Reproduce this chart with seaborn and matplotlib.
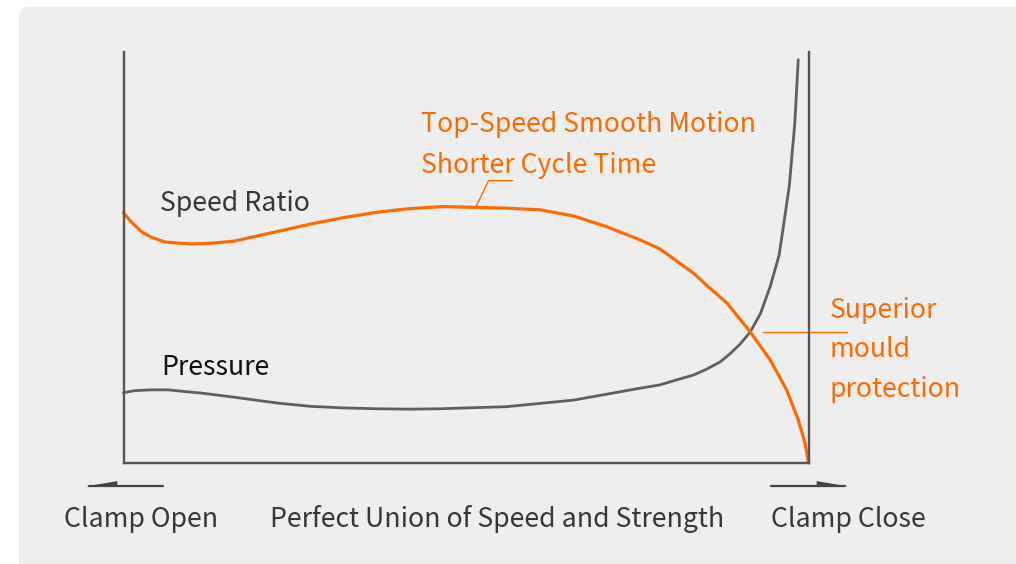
import numpy as np
import pandas as pd
import matplotlib
matplotlib.use("Agg")
import matplotlib.pyplot as plt
from matplotlib.patches import FancyBboxPatch, Polygon
from matplotlib.transforms import IdentityTransform
import seaborn as sns

# stroke position (0 = clamp open, 100 = clamp close) and relative levels
speed_x = [0, 1.1, 2.6, 4.1, 6.0, 7.9, 9.9, 11.8, 13.8, 16.2, 22.4, 27.2, 32.1, 37.0,
           41.8, 46.7, 51.1, 55.9, 60.8, 65.7, 70.5, 75.4, 78.3, 80.3, 83.2, 85.1,
           88.1, 90.0, 91.5, 94.4, 96.8, 98.5, 99.5, 100]
speed_y = [60.9, 58.7, 56.3, 54.9, 53.8, 53.5, 53.3, 53.4, 53.6, 54.0, 56.3, 58.1, 59.7, 61.0,
           61.9, 62.4, 62.2, 62.0, 61.6, 60.1, 57.5, 54.3, 52.1, 49.7, 46.2, 43.3,
           38.9, 35.0, 31.9, 25.1, 17.8, 10.5, 4.8, 0]

pressure_x = [0, 1.6, 4.1, 6.5, 8.9, 11.4, 13.8, 16.2, 22.4, 27.2, 32.1, 37.0, 41.8, 46.2,
              55.9, 65.7, 75.4, 78.3, 80.3, 83.2, 85.1, 87.1, 88.5, 90.0, 91.5, 93.0,
              94.4, 95.7, 96.4, 97.2, 98.0, 98.5]
pressure_y = [17.1, 17.6, 17.8, 17.8, 17.4, 17.0, 16.5, 16.0, 14.6, 13.8, 13.4, 13.2, 13.1, 13.2,
              13.7, 15.3, 18.2, 19.0, 20.0, 21.4, 22.8, 24.6, 26.5, 28.9, 31.9, 36.4,
              42.9, 50.5, 58.3, 67.5, 82.7, 98.1]

ORANGE = "#ff6a00"
GREY = "#5f5f63"
AXIS = "#555555"
TEXT = "#3a3636"

sns.set_style("white")
plt.rcParams['font.family'] = ['Noto Sans CJK SC', 'DejaVu Sans']

fig = plt.figure(figsize=(10.16, 5.64), dpi=100, facecolor="white")

# light grey card behind the chart
card = FancyBboxPatch((19, -30), 1100, 587, boxstyle="round,pad=0,rounding_size=10",
                      transform=IdentityTransform(), facecolor="#eeeeee", edgecolor="none",
                      zorder=-10)
fig.patches.append(card)

ax = fig.add_axes([123.5 / 1016, 101 / 564, 685 / 1016, 411 / 564])
ax.set_facecolor("none")
ax.set_xlim(0, 100)
ax.set_ylim(0, 100)

speed = pd.DataFrame({"x": speed_x, "y": speed_y})
pressure = pd.DataFrame({"x": pressure_x, "y": pressure_y})

sns.lineplot(data=pressure, x="x", y="y", ax=ax, color=GREY, linewidth=2.0,
             estimator=None, sort=False, clip_on=False)
sns.lineplot(data=speed, x="x", y="y", ax=ax, color=ORANGE, linewidth=2.3,
             estimator=None, sort=False, clip_on=False)
for ln in ax.lines:
    ln.set_solid_joinstyle("round")

ax.spines["top"].set_visible(False)
for side in ["left", "right", "bottom"]:
    ax.spines[side].set_color(AXIS)
    ax.spines[side].set_linewidth(1.7)
ax.set_xticks([])
ax.set_yticks([])
ax.set_xlabel("")
ax.set_ylabel("")

fs = 19.2
ax.text(5.4, 61.4, "Speed Ratio", fontsize=fs, color=TEXT, ha="left", va="baseline")
ax.text(5.5, 21.4, "Pressure", fontsize=fs, color="#111111", ha="left", va="baseline")
ax.text(43.4, 80.6, "Top-Speed Smooth Motion", fontsize=fs, color=ORANGE, ha="left", va="baseline")
ax.text(43.4, 70.5, "Shorter Cycle Time", fontsize=fs, color=ORANGE, ha="left", va="baseline")
for txt, yy in [("Superior", 35.4), ("mould", 25.7), ("protection", 16.1)]:
    ax.text(103.1, yy, txt, fontsize=fs, color=ORANGE, ha="left", va="baseline", clip_on=False)

# leader lines
ax.plot([51.5, 53.3, 56.8], [62.5, 68.7, 68.7], color=ORANGE, linewidth=1.0, clip_on=False)
ax.plot([93.4, 105.6], [31.9, 31.9], color=ORANGE, linewidth=1.0, clip_on=False)

# bottom direction arrows (half heads)
ay = -5.7
ax.plot([5.8, -5.0], [ay, ay], color="#444444", linewidth=1.6, clip_on=False)
ax.add_patch(Polygon([(-5.5, ay), (-0.9, ay + 1.3), (-0.9, ay)], closed=True,
                     facecolor="#444444", edgecolor="none", clip_on=False))
ax.plot([94.5, 105.3], [ay, ay], color="#444444", linewidth=1.6, clip_on=False)
ax.add_patch(Polygon([(105.8, ay), (101.2, ay + 1.3), (101.2, ay)], closed=True,
                     facecolor="#444444", edgecolor="none", clip_on=False))

ax.text(-8.7, -15.6, "Clamp Open", fontsize=fs, color=TEXT, ha="left", va="baseline")
ax.text(21.4, -15.6, "Perfect Union of Speed and Strength", fontsize=fs, color=TEXT,
        ha="left", va="baseline")
ax.text(94.5, -15.6, "Clamp Close", fontsize=fs, color=TEXT, ha="left", va="baseline")

fig.savefig("out.png", dpi=100, facecolor="white")
